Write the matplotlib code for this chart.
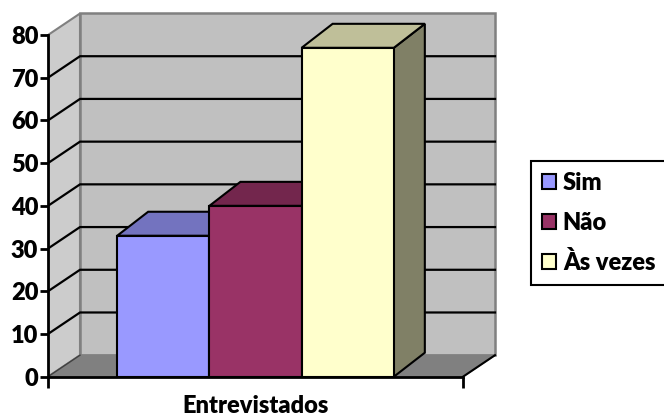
import matplotlib.pyplot as plt
from matplotlib.patches import Polygon, Rectangle, Patch

categories = ['Sim', 'Não', 'Às vezes']
values = [33, 40, 77]
front_colors = ['#9999FF', '#993366', '#FFFFCC']
top_colors = ['#7373BF', '#73264D', '#BFBF99']
side_colors = ['#5C5C99', '#5C1F3D', '#808066']
y_ticks = [0, 10, 20, 30, 40, 50, 60, 70, 80]
x_label = 'Entrevistados'

plt.rcParams['font.family'] = ['Lato', 'DejaVu Sans']
plt.rcParams['font.weight'] = 'bold'

W, H = 664, 417
fig = plt.figure(figsize=(W / 100, H / 100), dpi=100)

# front plane: x 0..4.5 -> px 48..463, y 0..80 -> px 376.7..35
px_x = (463 - 48) / 4.5
px_y = (376.7 - 35) / 80
xmax, ymax = 4.9, 86
ax = fig.add_axes([48 / W, (H - 376.7) / H, xmax * px_x / W, ymax * px_y / H])
ax.set_xlim(0, xmax)
ax.set_ylim(0, ymax)
ax.patch.set_alpha(0)

floor_w = 4.5
top = 80
wdx, wdy = 32 / px_x, 21.5 / px_y   # wall depth
bdx, bdy = 31 / px_x, 24 / px_y     # bar depth

# walls and floor
ax.add_patch(Polygon([(0, 0), (wdx, wdy), (wdx, top + wdy), (0, top)],
                     facecolor='#CCCCCC', edgecolor='#808080', lw=1.5, zorder=1))
ax.add_patch(Rectangle((wdx, wdy), floor_w, top, facecolor='#C0C0C0',
                       edgecolor='#808080', lw=1.8, zorder=1))
ax.add_patch(Polygon([(0, 0), (floor_w, 0), (floor_w + wdx, wdy), (wdx, wdy)],
                     facecolor='#808080', edgecolor='#808080', lw=1, zorder=2))
ax.plot([floor_w, floor_w + wdx], [0, wdy], color='black', lw=1.5, zorder=2)
ax.plot([0, wdx], [0, wdy], color='#404040', lw=1, zorder=2)

# gridlines
for v in y_ticks[1:-1]:
    ax.plot([0, wdx, floor_w + wdx], [v, v + wdy, v + wdy], color='black', lw=1.6, zorder=2)

# 3d bars
for i, (val, fc, tc, sc) in enumerate(zip(values, front_colors, top_colors, side_colors)):
    x0 = 0.75 + i
    ax.add_patch(Polygon([(x0 + 1, 0), (x0 + 1 + bdx, bdy), (x0 + 1 + bdx, val + bdy), (x0 + 1, val)],
                         facecolor=sc, edgecolor='black', lw=1.5, zorder=3))
    ax.add_patch(Polygon([(x0, val), (x0 + 1, val), (x0 + 1 + bdx, val + bdy), (x0 + bdx, val + bdy)],
                         facecolor=tc, edgecolor='black', lw=1.5, zorder=3))
    ax.add_patch(Rectangle((x0, 0), 1, val, facecolor=fc, edgecolor='black', lw=1.5, zorder=3))

# axes
for s in ['top', 'right']:
    ax.spines[s].set_visible(False)
ax.spines['left'].set_bounds(0, top)
ax.spines['bottom'].set_bounds(0, floor_w)
for s in ['left', 'bottom']:
    ax.spines[s].set_linewidth(2)
    ax.spines[s].set_zorder(5)
ax.set_yticks(y_ticks)
ax.tick_params(axis='y', direction='out', length=6, width=2, labelsize=17, pad=1)
ax.set_xticks([floor_w / 2])
ax.set_xticklabels([x_label])
ax.set_xticks([0, floor_w], minor=True)
ax.tick_params(axis='x', which='major', length=0, labelsize=17, pad=13)
ax.tick_params(axis='x', which='minor', direction='out', length=8, width=2)
for lab in ax.get_xticklabels() + ax.get_yticklabels():
    lab.set_fontweight('heavy')

handles = [Patch(facecolor=c, edgecolor='black', lw=1.5) for c in front_colors]
leg = fig.legend(handles, categories, loc='center left', bbox_to_anchor=(531 / W, 1 - 223 / H),
                 frameon=True, fancybox=False, edgecolor='black', framealpha=1,
                 prop={'size': 17, 'weight': 'heavy'}, handlelength=0.6, handleheight=0.6,
                 handletextpad=0.3, labelspacing=0.75, borderpad=0.45, borderaxespad=0)
leg.get_frame().set_linewidth(1.5)

fig.savefig('out.png', dpi=100)
